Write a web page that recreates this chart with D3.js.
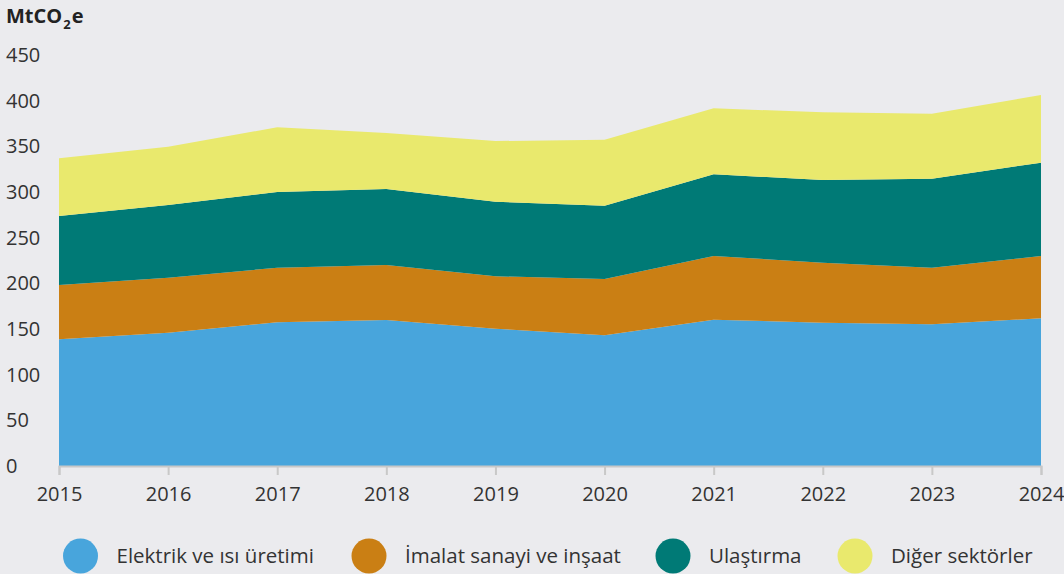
<!DOCTYPE html>
<html>
<head>
<meta charset="utf-8">
<script src="https://cdn.jsdelivr.net/npm/d3@7"></script>
<style>
  html, body { margin: 0; padding: 0; background: #ebebee; }
  svg { display: block; font-family: "Open Sans", "Noto Sans", sans-serif; }
</style>
</head>
<body>
<svg id="chart" width="1064" height="574"></svg>
<script>
// years on the x axis
const years = [2015, 2016, 2017, 2018, 2019, 2020, 2021, 2022, 2023, 2024];

// MtCO2e per sector
const elektrik = [138.7, 146.0, 157.3, 159.9, 150.3, 143.1, 160.2, 156.9, 155.1, 161.7];
const imalat   = [59.5, 60.2, 59.8, 60.2, 57.4, 61.7, 69.7, 65.7, 62.0, 68.2];
const ulastirma = [75.5, 79.6, 82.9, 83.2, 81.7, 80.2, 89.5, 90.5, 97.5, 102.2];
const diger    = [63.3, 63.8, 70.8, 61.3, 66.4, 72.3, 72.2, 74.2, 71.2, 74.1];

const seriesNames = ['Elektrik ve ısı üretimi', 'İmalat sanayi ve inşaat', 'Ulaştırma', 'Diğer sektörler'];
const colors = ['#48a5dc', '#ca7f14', '#007a76', '#e9e96d'];
const yTicks = [0, 50, 100, 150, 200, 250, 300, 350, 400, 450];

const keys = ['e', 'i', 'u', 'd'];
const rows = years.map((y, i) => ({ year: y, e: elektrik[i], i: imalat[i], u: ulastirma[i], d: diger[i] }));

const svg = d3.select('#chart');
const margin = { top: 55, right: 23, bottom: 108, left: 59 };
const width = 1064, height = 574;
const font = '"Open Sans", "Noto Sans", sans-serif';

const x = d3.scaleLinear()
  .domain([2015, 2024])
  .range([margin.left, width - margin.right]);

const y = d3.scaleLinear()
  .domain([0, 450])
  .range([height - margin.bottom, margin.top]);

const stacked = d3.stack().keys(keys)(rows);

const area = d3.area()
  .x(d => x(d.data.year))
  .y0(d => y(d[0]))
  .y1(d => y(d[1]));

svg.append('g')
  .selectAll('path')
  .data(stacked)
  .join('path')
  .attr('fill', (d, i) => colors[i])
  .attr('d', area);

// y axis labels (no line)
svg.append('g')
  .selectAll('text')
  .data(yTicks)
  .join('text')
  .attr('x', 6)
  .attr('y', d => y(d))
  .attr('dy', '0.35em')
  .attr('font-size', 20)
  .attr('fill', '#333')
  .text(d => d);

// x axis
const xAxis = svg.append('g')
  .attr('transform', `translate(0,${y(0)})`)
  .call(d3.axisBottom(x).tickValues(years).tickFormat(d3.format('d')).tickSize(9).tickPadding(12));
xAxis.select('.domain').attr('stroke', '#c8c8c8').attr('stroke-width', 2);
xAxis.selectAll('.tick line').attr('stroke', '#c8c8c8').attr('stroke-width', 2);
xAxis.selectAll('.tick text').attr('font-size', 20).attr('fill', '#333').attr('font-family', font);

// unit title
const title = svg.append('text')
  .attr('x', 6)
  .attr('y', 23)
  .attr('font-size', 20)
  .attr('font-weight', 'bold')
  .attr('fill', '#222');
title.append('tspan').text('MtCO');
title.append('tspan').attr('font-size', 13).attr('dy', 6).attr('dx', 1).text('2');
title.append('tspan').attr('dy', -6).attr('dx', 1).text('e');

// legend
const legendX = [80.5, 369, 673, 855];
const legend = svg.append('g')
  .selectAll('g')
  .data(seriesNames)
  .join('g')
  .attr('transform', (d, i) => `translate(${legendX[i]},556)`);
legend.append('circle')
  .attr('r', 17.5)
  .attr('fill', (d, i) => colors[i]);
legend.append('text')
  .attr('x', 36)
  .attr('dy', '0.35em')
  .attr('font-size', 20.5)
  .attr('fill', '#333')
  .text(d => d);
</script>
</body>
</html>
